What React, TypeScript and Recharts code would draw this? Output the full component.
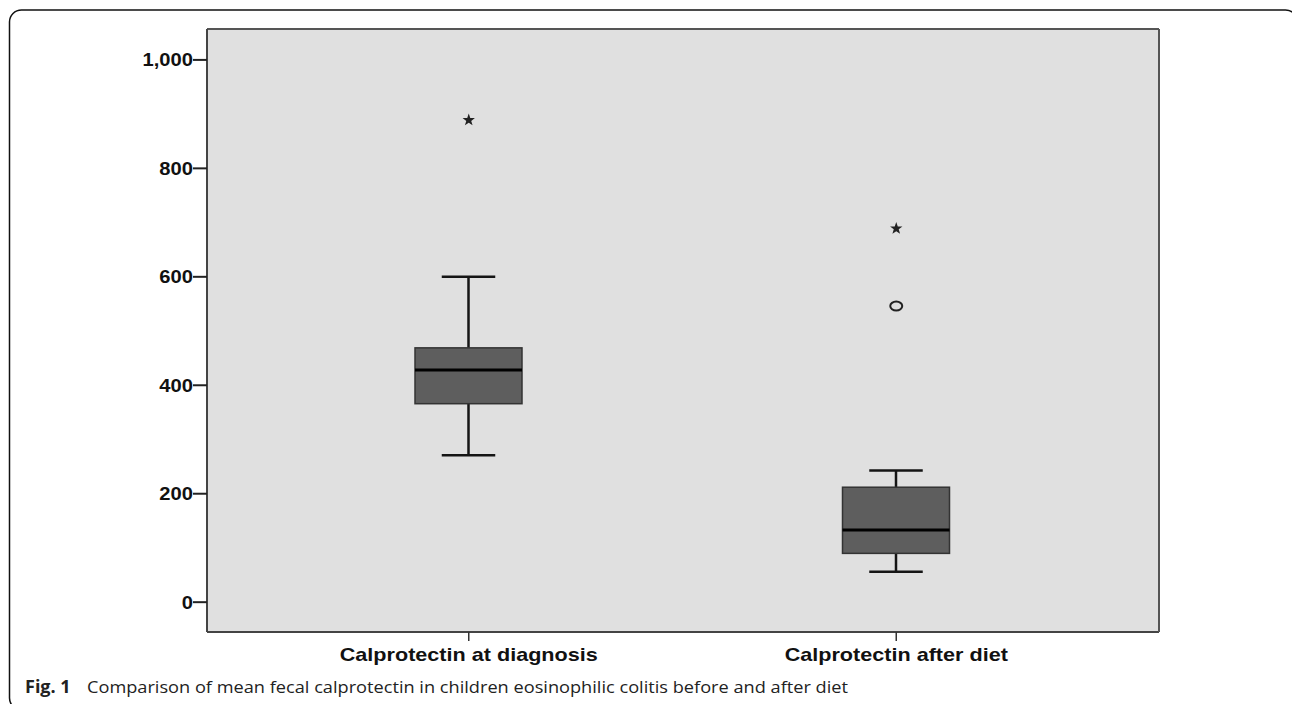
import React from 'react';
import { ComposedChart, Bar, Scatter, XAxis, YAxis, CartesianGrid, ReferenceLine } from 'recharts';

// ---- data ----
const categories = ['Calprotectin at diagnosis', 'Calprotectin after diet'];
const whiskerLow = [271, 56];
const quartile1 = [366, 90];
const medians = [428, 133];
const quartile3 = [469, 212];
const whiskerHigh = [600, 243];
const extremeOutliers = [
  { name: 'Calprotectin at diagnosis', value: 889 },
  { name: 'Calprotectin after diet', value: 689 },
];
const mildOutliers = [{ name: 'Calprotectin after diet', value: 546 }];
const yTicks = [0, 200, 400, 600, 800, 1000];
const yDomain = [-55, 1057];
const captionLabel = 'Fig. 1';
const captionText =
  'Comparison of mean fecal calprotectin in children eosinophilic colitis before and after diet';

const data = categories.map((name, i) => ({
  name,
  min: whiskerLow[i],
  q1: quartile1[i],
  median: medians[i],
  q3: quartile3[i],
  max: whiskerHigh[i],
}));

const BoxShape = (props: any) => {
  const { x, y, width, height, payload } = props;
  if (!payload || !height) return <g />;
  const ppu = height / (payload.q3 - payload.q1);
  const toY = (v: number) => y + (payload.q3 - v) * ppu;
  const cx = x + width / 2;
  const capHalf = width / 4;
  const yMax = toY(payload.max);
  const yMin = toY(payload.min);
  const yMed = toY(payload.median);
  const yBottom = y + height;
  return (
    <g>
      <line x1={cx} x2={cx} y1={yMax} y2={y} stroke="#151515" strokeWidth={2.5} />
      <line x1={cx} x2={cx} y1={yBottom} y2={yMin} stroke="#151515" strokeWidth={2.5} />
      <line x1={cx - capHalf} x2={cx + capHalf} y1={yMax} y2={yMax} stroke="#151515" strokeWidth={2.5} />
      <line x1={cx - capHalf} x2={cx + capHalf} y1={yMin} y2={yMin} stroke="#151515" strokeWidth={2.5} />
      <rect x={x} y={y} width={width} height={height} fill="#5e5e5e" stroke="#333" strokeWidth={1.5} />
      <line x1={x} x2={x + width} y1={yMed} y2={yMed} stroke="#000" strokeWidth={3} />
    </g>
  );
};

const StarShape = (props: any) => {
  const { cx, cy } = props;
  if (cx == null || cy == null) return <g />;
  const pts: string[] = [];
  for (let i = 0; i < 10; i++) {
    const r = i % 2 === 0 ? 6.5 : 2.6;
    const a = -Math.PI / 2 + (i * Math.PI) / 5;
    pts.push(`${cx + r * Math.cos(a)},${cy + r * Math.sin(a)}`);
  }
  return <polygon points={pts.join(' ')} fill="#222" />;
};

const CircleShape = (props: any) => {
  const { cx, cy } = props;
  if (cx == null || cy == null) return <g />;
  return <ellipse cx={cx} cy={cy} rx={6} ry={4.5} fill="none" stroke="#222" strokeWidth={2} />;
};

const YTick = (props: any) => {
  const { x, y, payload } = props;
  const label = Number(payload.value).toLocaleString('en-US');
  return (
    <text
      transform={`translate(${x},${y + 6.5}) scale(1.12,1)`}
      textAnchor="end"
      fontFamily="'Liberation Sans', Arial, sans-serif"
      fontWeight="bold"
      fontSize={18}
      fill="#111"
    >
      {label}
    </text>
  );
};

const XTick = (props: any) => {
  const { x, y, payload } = props;
  return (
    <text
      transform={`translate(${x},${y + 18}) scale(1.2,1)`}
      textAnchor="middle"
      fontFamily="'Liberation Sans', Arial, sans-serif"
      fontWeight="bold"
      fontSize={18}
      fill="#111"
    >
      {payload.value}
    </text>
  );
};

export default function App() {
  return (
    <div style={{ position: 'absolute', left: 0, top: 0, width: 1292, height: 704, background: '#fff', overflow: 'hidden' }}>
      <svg width={1292} height={704} style={{ position: 'absolute', left: 0, top: 0 }}>
        <rect x={9.5} y={10} width={1288} height={700} rx={12} ry={12} fill="none" stroke="#111" strokeWidth={1.5} />
        <text x={25} y={693} fontFamily="'Open Sans', 'Noto Sans', sans-serif" fontSize={18} fontWeight="bold" fill="#222">
          {captionLabel}
        </text>
        <text
          x={87}
          y={693}
          fontFamily="'Open Sans', 'Noto Sans', sans-serif"
          fontSize={17}
          fill="#222"
          textLength={761}
          lengthAdjust="spacingAndGlyphs"
        >
          {captionText}
        </text>
      </svg>
      <div style={{ position: 'absolute', left: 0, top: 0 }}>
        <ComposedChart
          width={1292}
          height={704}
          data={data}
          margin={{ top: 28, right: 132, bottom: 32, left: 127 }}
        >
          <CartesianGrid horizontal={false} vertical={false} fill="#e0e0e0" fillOpacity={1} />
          <XAxis
            dataKey="name"
            type="category"
            allowDuplicatedCategory={false}
            padding={{ left: 48, right: 49 }}
            height={40}
            tickSize={9}
            tickMargin={2}
            axisLine={{ stroke: '#444', strokeWidth: 2 }}
            tickLine={{ stroke: '#333', strokeWidth: 1.5 }}
            tick={<XTick />}
            interval={0}
          />
          <XAxis
            xAxisId="top"
            orientation="top"
            dataKey="name"
            type="category"
            allowDuplicatedCategory={false}
            height={1}
            tick={false}
            tickLine={false}
            axisLine={{ stroke: '#555', strokeWidth: 2 }}
          />
          <YAxis
            type="number"
            domain={yDomain}
            ticks={yTicks}
            allowDataOverflow
            width={80}
            tickSize={14}
            tickMargin={0}
            axisLine={{ stroke: '#444', strokeWidth: 2 }}
            tickLine={{ stroke: '#222', strokeWidth: 2 }}
            tick={<YTick />}
          />
          <YAxis
            yAxisId="right"
            orientation="right"
            type="number"
            domain={yDomain}
            allowDataOverflow
            width={1}
            tick={false}
            tickLine={false}
            axisLine={{ stroke: '#555', strokeWidth: 2 }}
          />
          <ReferenceLine y={yDomain[1]} stroke="#555" strokeWidth={2} ifOverflow="visible" />
          <Bar
            dataKey={(d: any) => [d.q1, d.q3]}
            barSize={107}
            shape={<BoxShape />}
            isAnimationActive={false}
          />
          <Scatter data={extremeOutliers} dataKey="value" shape={<StarShape />} isAnimationActive={false} />
          <Scatter data={mildOutliers} dataKey="value" shape={<CircleShape />} isAnimationActive={false} />
        </ComposedChart>
      </div>
    </div>
  );
}
